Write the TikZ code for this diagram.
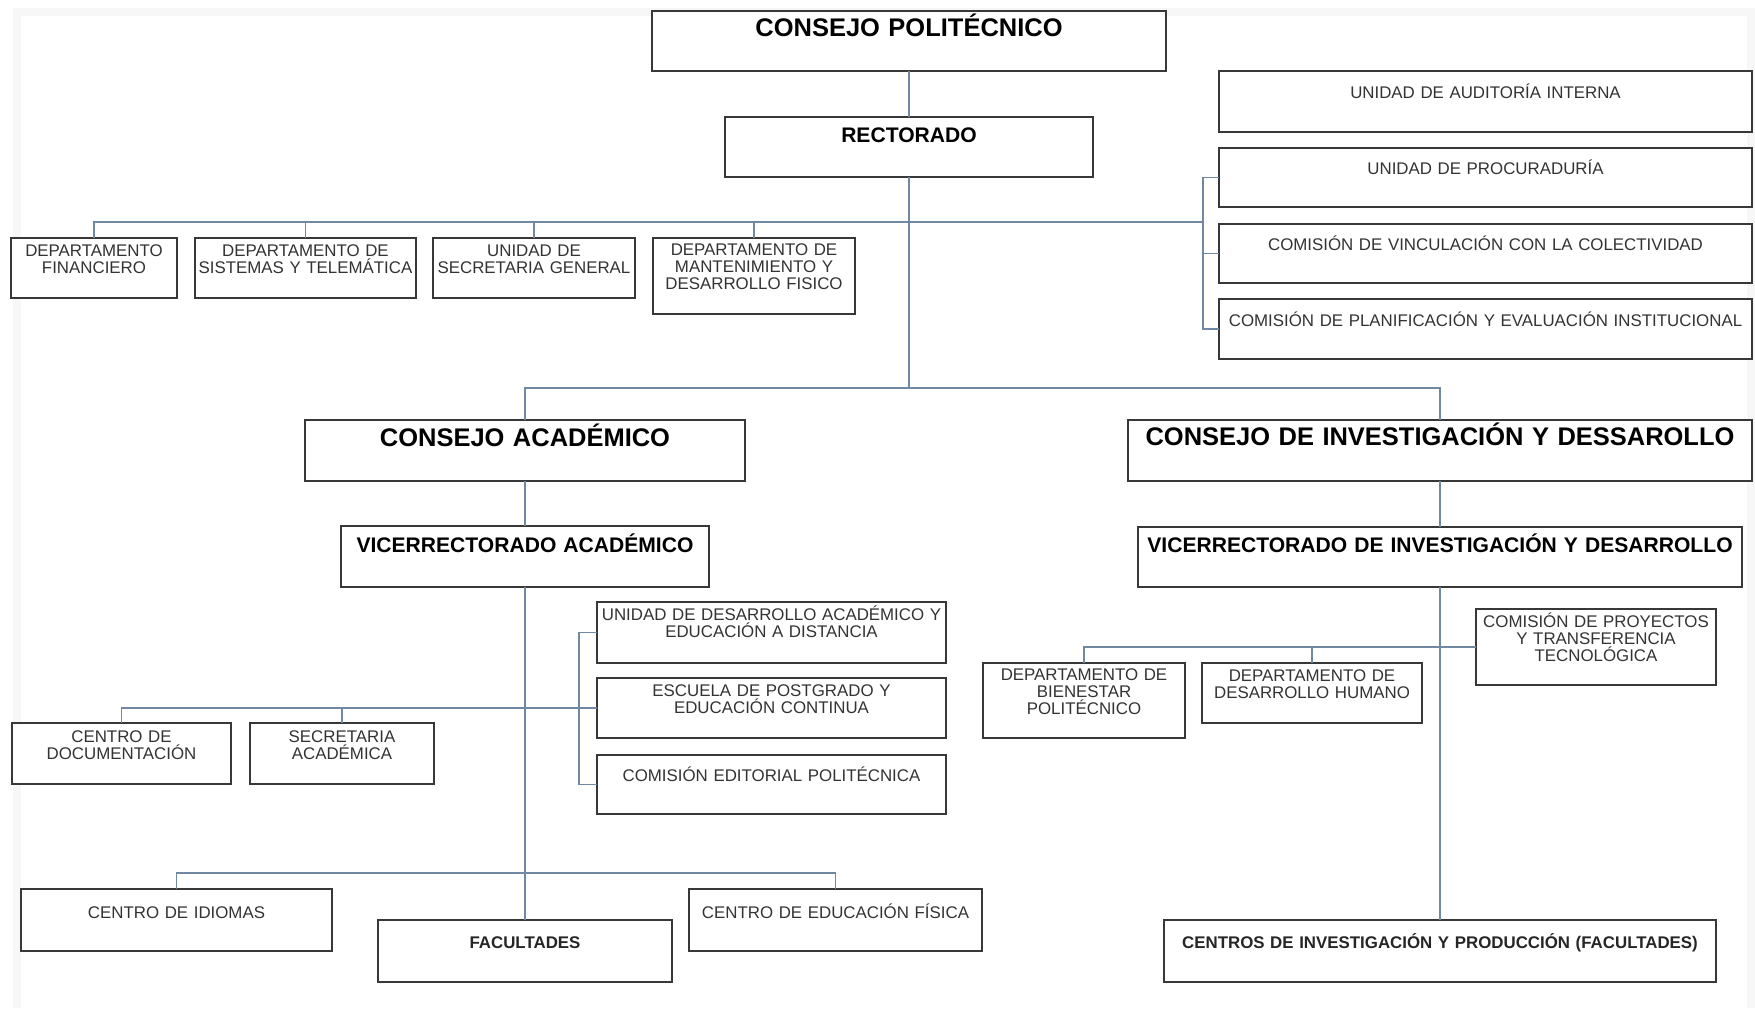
\documentclass[tikz,border=0pt]{standalone}
\usepackage{fontspec}
\setmainfont{Liberation Sans}
\usepackage{tikz}

\definecolor{linkblue}{RGB}{112,136,162}

% caja: nombre, x1, y1, x2, y2, estilo del texto, bajada del texto, texto
\newcommand{\orgbox}[8]{%
  \node[box, anchor=north west, minimum width={(#4-#2)*0.02cm},
    minimum height={(#5-#3)*0.02cm},
    label={[#6, yshift={-#7*0.02cm}]north:{#8}}] (#1) at (#2,#3) {};}

\begin{document}
\begin{tikzpicture}[x=0.02cm, y=-0.02cm,
    box/.style={draw=black!78, line width=1.5pt, fill=white, inner sep=0pt, outer sep=0pt},
    lbl/.style={anchor=base, text width=14cm, align=center, inner sep=0pt},
    big/.style={lbl, font=\fontsize{14.5}{16}\selectfont\bfseries},
    mid/.style={lbl, font=\fontsize{12}{14}\selectfont\bfseries},
    small/.style={lbl, font=\fontsize{9.6}{9.7}\selectfont, text=black!80},
    smallb/.style={lbl, font=\fontsize{9.6}{9.7}\selectfont\bfseries, text=black!85},
    conn/.style={draw=linkblue, line width=1.1pt}]
    \useasboundingbox (0,0) rectangle (1755,1008);
    \fill[white] (0,0) rectangle (1755,1008);
    \draw[black!3, line width=0.16cm] (17,1008) -- (17,12) -- (1751,12) -- (1751,1008); % marco

    % nivel superior
    \orgbox{cp}{652}{11}{1166}{71}{big}{25}{CONSEJO POLITÉCNICO}
    \orgbox{rec}{725}{117}{1093}{177}{mid}{25}{RECTORADO}
    \orgbox{fin}{11}{238}{177}{298}{small}{18}{DEPARTAMENTO\\FINANCIERO}
    \orgbox{sis}{195}{238}{416}{298}{small}{18}{DEPARTAMENTO DE\\SISTEMAS Y TELEMÁTICA}
    \orgbox{sec}{433}{238}{635}{298}{small}{18}{UNIDAD DE\\SECRETARIA GENERAL}
    \orgbox{man}{653}{238}{855}{314}{small}{17}{DEPARTAMENTO DE\\MANTENIMIENTO Y\\DESARROLLO FISICO}
    \orgbox{aud}{1219}{71}{1752}{132}{small}{27}{UNIDAD DE AUDITORÍA INTERNA}
    \orgbox{pro}{1219}{148}{1752}{207}{small}{26}{UNIDAD DE PROCURADURÍA}
    \orgbox{vin}{1219}{224}{1752}{283}{small}{26}{COMISIÓN DE VINCULACIÓN CON LA COLECTIVIDAD}
    \orgbox{pla}{1219}{299}{1752}{359}{small}{27}{COMISIÓN DE PLANIFICACIÓN Y EVALUACIÓN INSTITUCIONAL}

    % rama academica
    \orgbox{ca}{305}{420}{745}{481}{big}{26}{CONSEJO ACADÉMICO}
    \orgbox{va}{341}{526}{709}{587}{mid}{26}{VICERRECTORADO ACADÉMICO}
    \orgbox{udes}{597}{602}{946}{663}{small}{18}{UNIDAD DE DESARROLLO ACADÉMICO Y\\EDUCACIÓN A DISTANCIA}
    \orgbox{esc}{597}{678}{946}{738}{small}{18}{ESCUELA DE POSTGRADO Y\\EDUCACIÓN CONTINUA}
    \orgbox{com}{597}{755}{946}{814}{small}{26}{COMISIÓN EDITORIAL POLITÉCNICA}
    \orgbox{cdoc}{12}{723}{231}{784}{small}{19}{CENTRO DE\\DOCUMENTACIÓN}
    \orgbox{sac}{250}{723}{434}{784}{small}{19}{SECRETARIA\\ACADÉMICA}
    \orgbox{idi}{21}{889}{332}{951}{small}{29}{CENTRO DE IDIOMAS}
    \orgbox{fac}{378}{920}{672}{982}{smallb}{28}{FACULTADES}
    \orgbox{edf}{689}{889}{982}{951}{small}{29}{CENTRO DE EDUCACIÓN FÍSICA}

    % rama de investigacion
    \orgbox{cid}{1128}{420}{1752}{481}{big}{25}{CONSEJO DE INVESTIGACIÓN Y DESSAROLLO}
    \orgbox{vid}{1138}{527}{1742}{587}{mid}{25}{VICERRECTORADO DE INVESTIGACIÓN Y DESARROLLO}
    \orgbox{bie}{983}{663}{1185}{738}{small}{17}{DEPARTAMENTO DE\\BIENESTAR\\POLITÉCNICO}
    \orgbox{dh}{1202}{663}{1422}{723}{small}{18}{DEPARTAMENTO DE\\DESARROLLO HUMANO}
    \orgbox{cpt}{1476}{609}{1716}{685}{small}{18}{COMISIÓN DE PROYECTOS\\Y TRANSFERENCIA\\TECNOLÓGICA}
    \orgbox{cen}{1164}{920}{1716}{982}{smallb}{28}{CENTROS DE INVESTIGACIÓN Y PRODUCCIÓN (FACULTADES)}

    % lineas
    \coordinate (busR) at (1203,222);
    \coordinate (busA) at (909,388);
    \coordinate (brA) at (579,708);
    \coordinate (busF) at (525,873);
    \draw[conn] (cp.south) -- (rec.north);
    \draw[conn] (rec.south) -- (rec.south |- busA);
    \draw[conn] (ca.north) |- (busA) -| (cid.north);
    \draw[conn] (fin.north) |- (busR);
    \draw[conn] (sis.north) -- (sis.north |- busR);
    \draw[conn] (sec.north) -- (sec.north |- busR);
    \draw[conn] (man.north) -- (man.north |- busR);
    \draw[conn] (pro.west) -| (busR) |- (pla.west);
    \draw[conn] (vin.west) -- (vin.west -| busR);
    \draw[conn] (ca.south) -- (va.north);
    \draw[conn] (va.south) -- (fac.north);
    \draw[conn] (idi.north) |- (busF) -| (edf.north);
    \draw[conn] (cdoc.north) |- (esc.west);
    \draw[conn] (sac.north) -- (sac.north |- esc.west);
    \draw[conn] (udes.west) -| (brA) |- (com.west);
    \draw[conn] (cid.south) -- (vid.north);
    \draw[conn] (vid.south) -- (cen.north);
    \draw[conn] (bie.north) |- (cpt.west);
    \draw[conn] (dh.north) -- (dh.north |- cpt.west);
\end{tikzpicture}
\end{document}
